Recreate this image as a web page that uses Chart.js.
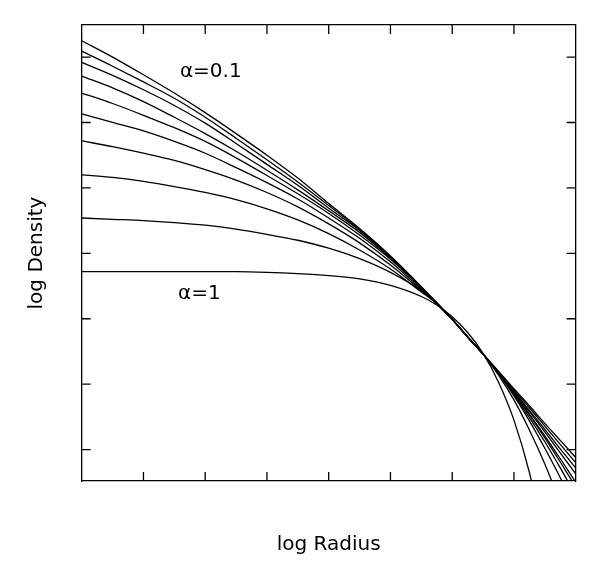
<!DOCTYPE html><html><head>
    <title>log Density vs log Radius</title>
    <style>
        html, body { margin: 0; padding: 0; background: #fff; }
        #wrap { width: 600px; height: 566px; }
    </style>
</head>
<body>
    <div id="wrap"><canvas id="chart"></canvas></div>
    <script src="https://cdn.jsdelivr.net/npm/chart.js"></script>
    <script>
        Chart.defaults.font.family = "'DejaVu Sans', 'Noto Sans', sans-serif";
        Chart.defaults.color = '#000';

        // log radius grid shared by every curve
        const logR = [0, 0.5, 1, 1.5, 2, 2.5, 3, 3.5, 4, 4.5, 5, 5.5, 5.75, 6, 6.25, 6.5, 6.75, 7, 7.25, 7.5, 7.75, 8];
        const alphas = [0.1, 0.2, 0.3, 0.4, 0.5, 0.6, 0.7, 0.8, 0.9, 1];
        // log density, one array per alpha
        const d01 = [7.25, 7.00, 6.73, 6.45, 6.15, 5.83, 5.50, 5.15, 4.76, 4.38, 3.96, 3.49, 3.24, 2.99, 2.73, 2.46, 2.20, 1.93, 1.67, 1.40, 1.14, 0.88];
        const d02 = [7.09, 6.86, 6.62, 6.37, 6.08, 5.76, 5.43, 5.09, 4.73, 4.36, 3.95, 3.48, 3.24, 2.99, 2.72, 2.46, 2.19, 1.91, 1.64, 1.36, 1.08, 0.80];
        const d03 = [6.92, 6.72, 6.50, 6.26, 5.99, 5.68, 5.36, 5.04, 4.69, 4.35, 3.95, 3.48, 3.24, 2.99, 2.72, 2.46, 2.18, 1.89, 1.60, 1.31, 1.01, 0.72];
        const d04 = [6.71, 6.53, 6.32, 6.08, 5.83, 5.56, 5.27, 4.97, 4.65, 4.32, 3.93, 3.48, 3.24, 2.99, 2.72, 2.46, 2.17, 1.88, 1.58, 1.27, 0.95, 0.63];
        const d05 = [6.45, 6.29, 6.11, 5.92, 5.71, 5.46, 5.19, 4.91, 4.61, 4.28, 3.91, 3.47, 3.24, 2.99, 2.72, 2.46, 2.17, 1.87, 1.54, 1.21, 0.86, 0.50];
        const d06 = [6.13, 6.00, 5.87, 5.71, 5.53, 5.31, 5.08, 4.83, 4.54, 4.23, 3.87, 3.45, 3.24, 2.99, 2.72, 2.46, 2.17, 1.86, 1.53, 1.18, 0.81, 0.43];
        const d07 = [5.72, 5.63, 5.53, 5.42, 5.28, 5.12, 4.93, 4.71, 4.45, 4.16, 3.82, 3.43, 3.23, 2.99, 2.72, 2.46, 2.17, 1.84, 1.49, 1.12, 0.72, 0.30];
        const d08 = [5.20, 5.16, 5.10, 5.02, 4.93, 4.82, 4.68, 4.51, 4.30, 4.05, 3.76, 3.41, 3.23, 2.99, 2.72, 2.46, 2.16, 1.82, 1.44, 1.02, 0.57, 0.08];
        const d09 = [4.54, 4.52, 4.50, 4.47, 4.43, 4.37, 4.29, 4.20, 4.08, 3.92, 3.71, 3.43, 3.23, 2.99, 2.72, 2.46, 2.14, 1.76, 1.30, 0.78, 0.18, -0.48];
        const d10 = [3.72, 3.72, 3.72, 3.72, 3.72, 3.72, 3.71, 3.69, 3.66, 3.61, 3.51, 3.34, 3.21, 3.03, 2.79, 2.47, 2.03, 1.45, 0.65, -0.42, null, null];
        const curves = [d01, d02, d03, d04, d05, d06, d07, d08, d09, d10];

        // inward tick marks (no numbers on this plot)
        const xTicks = [1, 2, 3, 4, 5, 6, 7];
        const yTicks = [1, 2, 3, 4, 5, 6, 7];

        const notes = [
            { text: '\u03b1=0.1', x: 1.59, y: 6.77 },
            { text: '\u03b1=1', x: 1.56, y: 3.38 }
        ];

        const frameTicks = {
            id: 'frameTicks',
            afterDatasetsDraw(chart) {
                const { ctx, chartArea: a, scales: { x, y } } = chart;
                const len = 9;
                ctx.save();
                ctx.strokeStyle = '#000';
                ctx.lineWidth = 1.3;
                ctx.beginPath();
                xTicks.forEach(v => {
                    const px = x.getPixelForValue(v);
                    ctx.moveTo(px, a.bottom); ctx.lineTo(px, a.bottom - len);
                    ctx.moveTo(px, a.top); ctx.lineTo(px, a.top + len);
                });
                yTicks.forEach(v => {
                    const py = y.getPixelForValue(v);
                    ctx.moveTo(a.left, py); ctx.lineTo(a.left + len, py);
                    ctx.moveTo(a.right, py); ctx.lineTo(a.right - len, py);
                });
                ctx.stroke();
                ctx.fillStyle = '#000';
                ctx.font = "20px 'DejaVu Sans'";
                ctx.textAlign = 'left';
                ctx.textBaseline = 'middle';
                notes.forEach(n => ctx.fillText(n.text, x.getPixelForValue(n.x), y.getPixelForValue(n.y)));
                ctx.restore();
            }
        };

        const border = { display: true, color: '#000', width: 1.3 };
        const ctx = document.getElementById('chart').getContext('2d');
        new Chart(ctx, {
            type: 'line',
            data: {
                datasets: curves.map((c, i) => ({
                    label: '\u03b1=' + alphas[i],
                    data: logR.map((r, j) => ({ x: r, y: c[j] })),
                    borderColor: '#000',
                    borderWidth: 1.3,
                    pointRadius: 0,
                    fill: false,
                    cubicInterpolationMode: 'monotone',
                    clip: 0
                }))
            },
            options: {
                responsive: true,
                maintainAspectRatio: false,
                animation: false,
                layout: { padding: { left: 10, right: 24.3, top: 25, bottom: 9 } },
                plugins: { legend: { display: false }, tooltip: { enabled: false } },
                scales: {
                    x: {
                        type: 'linear', position: 'bottom', min: 0, max: 8,
                        grid: { display: false, drawTicks: false },
                        ticks: { display: false },
                        border: border,
                        title: { display: true, text: 'log Radius', font: { size: 20 }, padding: { top: 52, bottom: 0 } }
                    },
                    y: {
                        type: 'linear', position: 'left', min: 0.52, max: 7.49,
                        grid: { display: false, drawTicks: false },
                        ticks: { display: false },
                        border: border,
                        title: { display: true, text: 'log Density', font: { size: 20 }, padding: { top: 15, bottom: 32.7 } }
                    },
                    x2: {
                        type: 'linear', position: 'top', min: 0, max: 8,
                        grid: { display: false, drawTicks: false },
                        ticks: { display: false },
                        border: border
                    },
                    y2: {
                        type: 'linear', position: 'right', min: 0.52, max: 7.49,
                        grid: { display: false, drawTicks: false },
                        ticks: { display: false },
                        border: border
                    }
                }
            },
            plugins: [frameTicks]
        });
    </script>
</body></html>
